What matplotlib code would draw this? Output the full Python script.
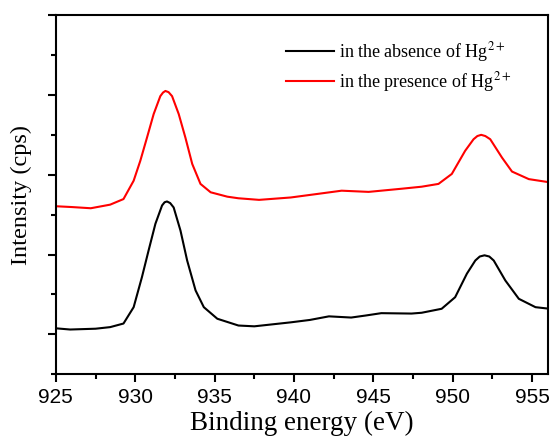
import matplotlib
matplotlib.use("Agg")
import matplotlib.pyplot as plt
from matplotlib.ticker import MultipleLocator

plt.rcParams['font.family'] = ['Liberation Serif', 'DejaVu Serif']
plt.rcParams['mathtext.fontset'] = 'stix'

# XPS Cu 2p spectra (arbitrary intensity units)
energy_absent = [925.0, 925.9, 927.5, 928.42, 929.26, 929.9, 930.42, 930.84, 931.27,
                 931.69, 931.85, 932.0, 932.2, 932.42, 932.85, 933.27, 933.8, 934.32,
                 935.17, 936.5, 937.5, 939.8, 941.0, 942.2, 943.6, 944.5, 945.5,
                 947.4, 948.04, 949.3, 950.15, 950.89, 951.42, 951.7, 952.0, 952.3,
                 952.58, 953.31, 954.16, 955.21, 956.1]
counts_absent = [1.15, 1.12, 1.14, 1.18, 1.27, 1.68, 2.43, 3.10, 3.77,
                 4.23, 4.31, 4.33, 4.29, 4.18, 3.60, 2.85, 2.10, 1.68,
                 1.39, 1.22, 1.20, 1.30, 1.36, 1.45, 1.42, 1.47, 1.53,
                 1.52, 1.54, 1.64, 1.93, 2.52, 2.85, 2.95, 2.98, 2.95,
                 2.85, 2.35, 1.89, 1.68, 1.64]

energy_present = [925.0, 926.0, 927.2, 928.42, 929.26, 929.9, 930.32, 930.74, 931.16,
                  931.58, 931.75, 931.9, 932.1, 932.32, 932.74, 933.16, 933.59, 934.11,
                  934.75, 935.8, 936.5, 937.8, 939.8, 941.5, 943.0, 944.7, 946.8,
                  948.04, 949.1, 949.94, 950.78, 951.31, 951.55, 951.79, 952.05,
                  952.36, 953.1, 953.73, 954.79, 956.1]
counts_present = [4.21, 4.19, 4.16, 4.25, 4.39, 4.85, 5.35, 5.93, 6.52,
                  6.97, 7.06, 7.10, 7.07, 6.97, 6.52, 5.93, 5.27, 4.77,
                  4.56, 4.45, 4.41, 4.37, 4.43, 4.52, 4.60, 4.57, 4.65,
                  4.70, 4.77, 5.02, 5.60, 5.89, 5.97, 6.00, 5.97,
                  5.89, 5.43, 5.08, 4.89, 4.81]

labels = [r'in the absence of Hg$^{2+}$', r'in the presence of Hg$^{2+}$']

fig = plt.figure(figsize=(5.53, 4.46), dpi=100)
ax = fig.add_axes([0.101, 0.161, 0.890, 0.805])

ax.plot(energy_absent, counts_absent, color='black', lw=1.5, label=labels[0])
ax.plot(energy_present, counts_present, color='red', lw=1.5, label=labels[1])

ax.set_xlim(925, 956)
ax.set_ylim(0, 9)
ax.xaxis.set_major_locator(MultipleLocator(5))
ax.xaxis.set_minor_locator(MultipleLocator(2.5))
ax.yaxis.set_major_locator(MultipleLocator(2, offset=1))
ax.yaxis.set_minor_locator(MultipleLocator(1))
ax.set_yticklabels([])
ax.tick_params(which='major', direction='out', length=6, width=1.5)
ax.tick_params(which='minor', direction='out', length=3.5, width=1.5)
ax.tick_params(axis='x', labelsize=15, pad=4)
for lab in ax.get_xticklabels():
    lab.set_family('Liberation Sans')
for sp in ax.spines.values():
    sp.set_linewidth(1.5)

ax.set_xlabel('Binding energy (eV)', fontsize=19.5, labelpad=3)
ax.set_ylabel('Intensity (cps)', fontsize=17.5, labelpad=8)

ax.legend(loc='upper left', bbox_to_anchor=(0.435, 0.975), frameon=False,
          fontsize=13, handlelength=2.65, handletextpad=0.3, labelspacing=0.3)

plt.savefig('out.png', dpi=100)
